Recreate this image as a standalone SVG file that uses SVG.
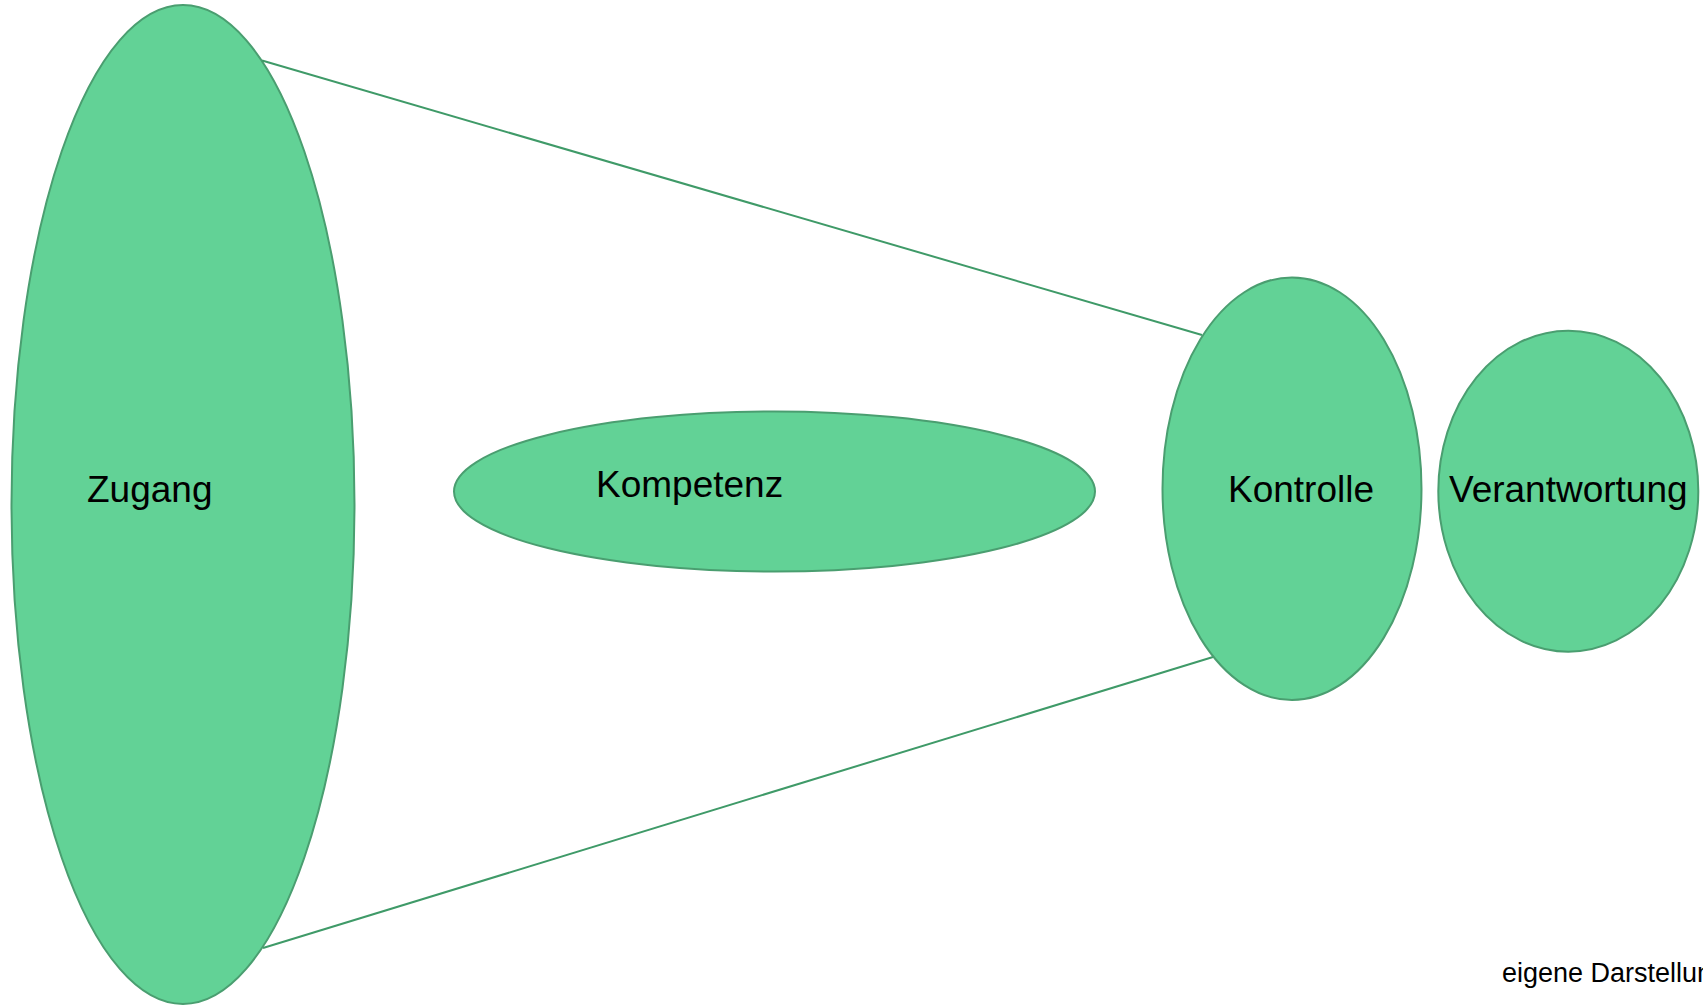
<svg xmlns="http://www.w3.org/2000/svg" width="1703" height="1005" viewBox="0 0 1703 1005">
<style>
.node{fill:#62d296;stroke:#4a9e70;stroke-width:2}
.lbl{font-family:"Liberation Sans",Arial,sans-serif;font-size:37px;fill:#000}
.conn{stroke:#3f9a68;stroke-width:2;fill:none}
.note{font-family:"Liberation Sans",Arial,sans-serif;font-size:27px;fill:#000}
</style>
<rect width="1703" height="1005" fill="#fff"/>
<g id="zugang">
<ellipse class="node" cx="183" cy="504.5" rx="171.5" ry="499.5"/>
<text class="lbl" x="87" y="502">Zugang</text>
</g>
<g id="connectors">
<line class="conn" x1="262" y1="60.5" x2="1202" y2="335"/>
<line class="conn" x1="263" y1="948" x2="1213" y2="657"/>
</g>
<g id="kompetenz">
<ellipse class="node" cx="774.5" cy="491.5" rx="320.5" ry="80"/>
<text class="lbl" x="596" y="497">Kompetenz</text>
</g>
<g id="kontrolle">
<ellipse class="node" cx="1292" cy="488.7" rx="129.5" ry="211.3"/>
<text class="lbl" x="1228" y="502">Kontrolle</text>
</g>
<g id="verantwortung">
<ellipse class="node" cx="1568.3" cy="491.2" rx="130" ry="160.5"/>
<text class="lbl" x="1449" y="502">Verantwortung</text>
</g>
<text class="note" x="1502" y="982">eigene Darstellung</text>
</svg>
